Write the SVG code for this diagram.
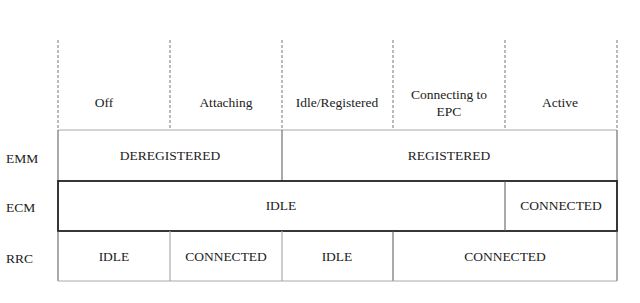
<svg xmlns="http://www.w3.org/2000/svg" width="640" height="303" viewBox="0 0 640 303" font-family="Liberation Serif, DejaVu Serif, serif">
<style>
text{font-size:13.5px;fill:#222;text-anchor:middle}
.lab{text-anchor:start}
.dash{stroke:#777;stroke-width:1;stroke-dasharray:3,2;fill:none}
.thin{stroke:#555;stroke-width:1;fill:none}
.gray{stroke:#aaa;stroke-width:1.2;fill:none}
.thick{stroke:#222;stroke-width:1.8;fill:none}
</style>
<rect width="640" height="303" fill="#fff"/>
<g id="connectors">
<line class="dash" x1="58" y1="40" x2="58" y2="130"/>
<line class="dash" x1="170" y1="40" x2="170" y2="130"/>
<line class="dash" x1="282" y1="40" x2="282" y2="130"/>
<line class="dash" x1="393" y1="40" x2="393" y2="130"/>
<line class="dash" x1="505" y1="40" x2="505" y2="130"/>
<line class="dash" x1="617" y1="40" x2="617" y2="130"/>
</g>
<g id="headers">
<text x="104" y="107">Off</text>
<text x="226" y="107">Attaching</text>
<text x="337" y="107">Idle/Registered</text>
<text x="449" y="99">Connecting to</text>
<text x="449" y="116">EPC</text>
<text x="560" y="107">Active</text>
</g>
<g id="row-labels">
<text class="lab" x="6" y="163">EMM</text>
<text class="lab" x="6" y="212">ECM</text>
<text class="lab" x="6" y="263">RRC</text>
</g>
<g id="emm">
<line class="gray" x1="58" y1="130" x2="617" y2="130"/>
<line class="thin" x1="58" y1="130" x2="58" y2="181"/>
<line class="thin" x1="282" y1="130" x2="282" y2="181"/>
<line class="thin" x1="617" y1="130" x2="617" y2="181"/>
<text x="170" y="160">DEREGISTERED</text>
<text x="449" y="160">REGISTERED</text>
</g>
<g id="ecm">
<rect class="thick" x="58" y="181" width="559" height="50"/>
<line class="thin" x1="505" y1="181" x2="505" y2="231"/>
<text x="281" y="210">IDLE</text>
<text x="561" y="210">CONNECTED</text>
</g>
<g id="rrc">
<line class="thin" x1="58" y1="231" x2="58" y2="281"/>
<line class="gray" x1="170" y1="231" x2="170" y2="281"/>
<line class="gray" x1="282" y1="231" x2="282" y2="281"/>
<line class="thin" x1="393" y1="231" x2="393" y2="281"/>
<line class="thin" x1="617" y1="231" x2="617" y2="281"/>
<line class="gray" x1="58" y1="281" x2="617" y2="281"/>
<text x="114" y="261">IDLE</text>
<text x="226" y="261">CONNECTED</text>
<text x="337" y="261">IDLE</text>
<text x="505" y="261">CONNECTED</text>
</g>
</svg>
